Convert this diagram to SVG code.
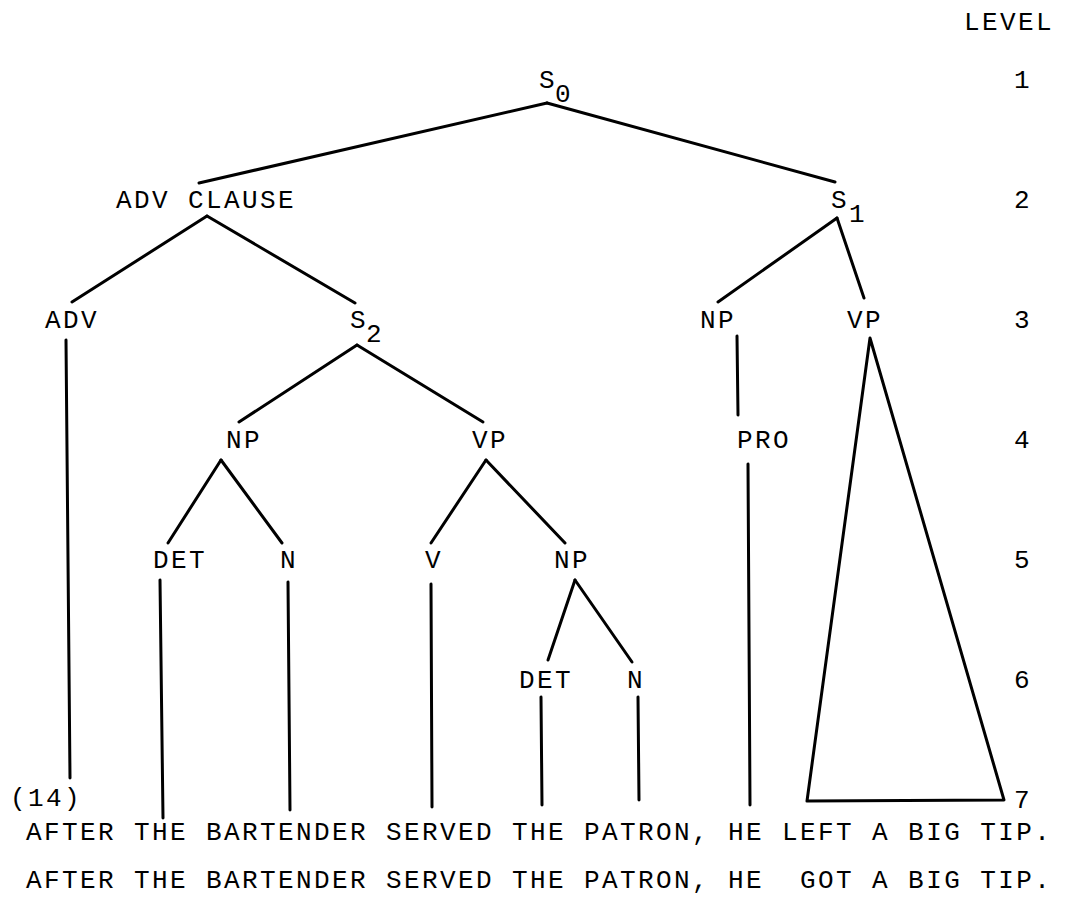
<svg xmlns="http://www.w3.org/2000/svg" width="1066" height="908" viewBox="0 0 1066 908">
<style>
text{font-family:"Liberation Mono","Courier New",monospace;font-size:26px;letter-spacing:2.4px;fill:#000}
.e{stroke:#000;stroke-width:3;fill:none;stroke-linecap:round;stroke-linejoin:round}
</style>
<rect width="1066" height="908" fill="#fff"/>
<g id="levels">
<text x="964" y="30">LEVEL</text>
<text x="1014" y="88">1</text>
<text x="1014" y="208">2</text>
<text x="1014" y="328">3</text>
<text x="1014" y="448">4</text>
<text x="1014" y="568">5</text>
<text x="1014" y="688">6</text>
<text x="1014" y="808">7</text>
</g>
<g id="connectors" class="e">
<line class="e" x1="547" y1="103" x2="199" y2="183"/>
<line class="e" x1="547" y1="103" x2="835" y2="182"/>
<line class="e" x1="207" y1="216" x2="72" y2="302"/>
<line class="e" x1="207" y1="216" x2="355" y2="303"/>
<line class="e" x1="837" y1="218" x2="718" y2="302"/>
<line class="e" x1="837" y1="218" x2="864" y2="298"/>
<line class="e" x1="66" y1="340" x2="70" y2="778"/>
<line class="e" x1="357" y1="345" x2="239" y2="422"/>
<line class="e" x1="357" y1="345" x2="483" y2="422"/>
<line class="e" x1="737" y1="336" x2="738" y2="415"/>
<polygon class="e" points="870,338 807,801 1004,800"/>
<line class="e" x1="221" y1="460" x2="168" y2="543"/>
<line class="e" x1="221" y1="460" x2="282" y2="543"/>
<line class="e" x1="486" y1="460" x2="431" y2="543"/>
<line class="e" x1="486" y1="460" x2="565" y2="543"/>
<line class="e" x1="748" y1="464" x2="750" y2="805"/>
<line class="e" x1="160" y1="580" x2="163" y2="818"/>
<line class="e" x1="288" y1="582" x2="290" y2="810"/>
<line class="e" x1="431" y1="584" x2="432" y2="807"/>
<line class="e" x1="575" y1="580" x2="548" y2="660"/>
<line class="e" x1="575" y1="580" x2="632" y2="662"/>
<line class="e" x1="541" y1="697" x2="542" y2="805"/>
<line class="e" x1="638" y1="697" x2="639" y2="800"/>
</g>
<g id="S0"><text x="539" y="88">S</text><text x="555" y="102">0</text></g>
<g id="ADVCLAUSE"><text x="116" y="208">ADV CLAUSE</text></g>
<g id="S1"><text x="831" y="208">S</text><text x="849" y="222">1</text></g>
<g id="ADV"><text x="45" y="328">ADV</text></g>
<g id="S2"><text x="350" y="328">S</text><text x="366" y="342">2</text></g>
<g id="NP3"><text x="700" y="328">NP</text></g>
<g id="VP3"><text x="847" y="328">VP</text></g>
<g id="NP4"><text x="226" y="448">NP</text></g>
<g id="VP4"><text x="472" y="448">VP</text></g>
<g id="PRO"><text x="737" y="448">PRO</text></g>
<g id="DET5"><text x="153" y="568">DET</text></g>
<g id="N5"><text x="280" y="568">N</text></g>
<g id="V5"><text x="425" y="568">V</text></g>
<g id="NP5"><text x="554" y="568">NP</text></g>
<g id="DET6"><text x="519" y="688">DET</text></g>
<g id="N6"><text x="627" y="688">N</text></g>
<g id="sentences">
<text x="10" y="806">(14)</text>
<text x="26" y="840" xml:space="preserve">AFTER THE BARTENDER SERVED THE PATRON, HE LEFT A BIG TIP.</text>
<text x="26" y="888" xml:space="preserve">AFTER THE BARTENDER SERVED THE PATRON, HE  GOT A BIG TIP.</text>
</g>
</svg>
